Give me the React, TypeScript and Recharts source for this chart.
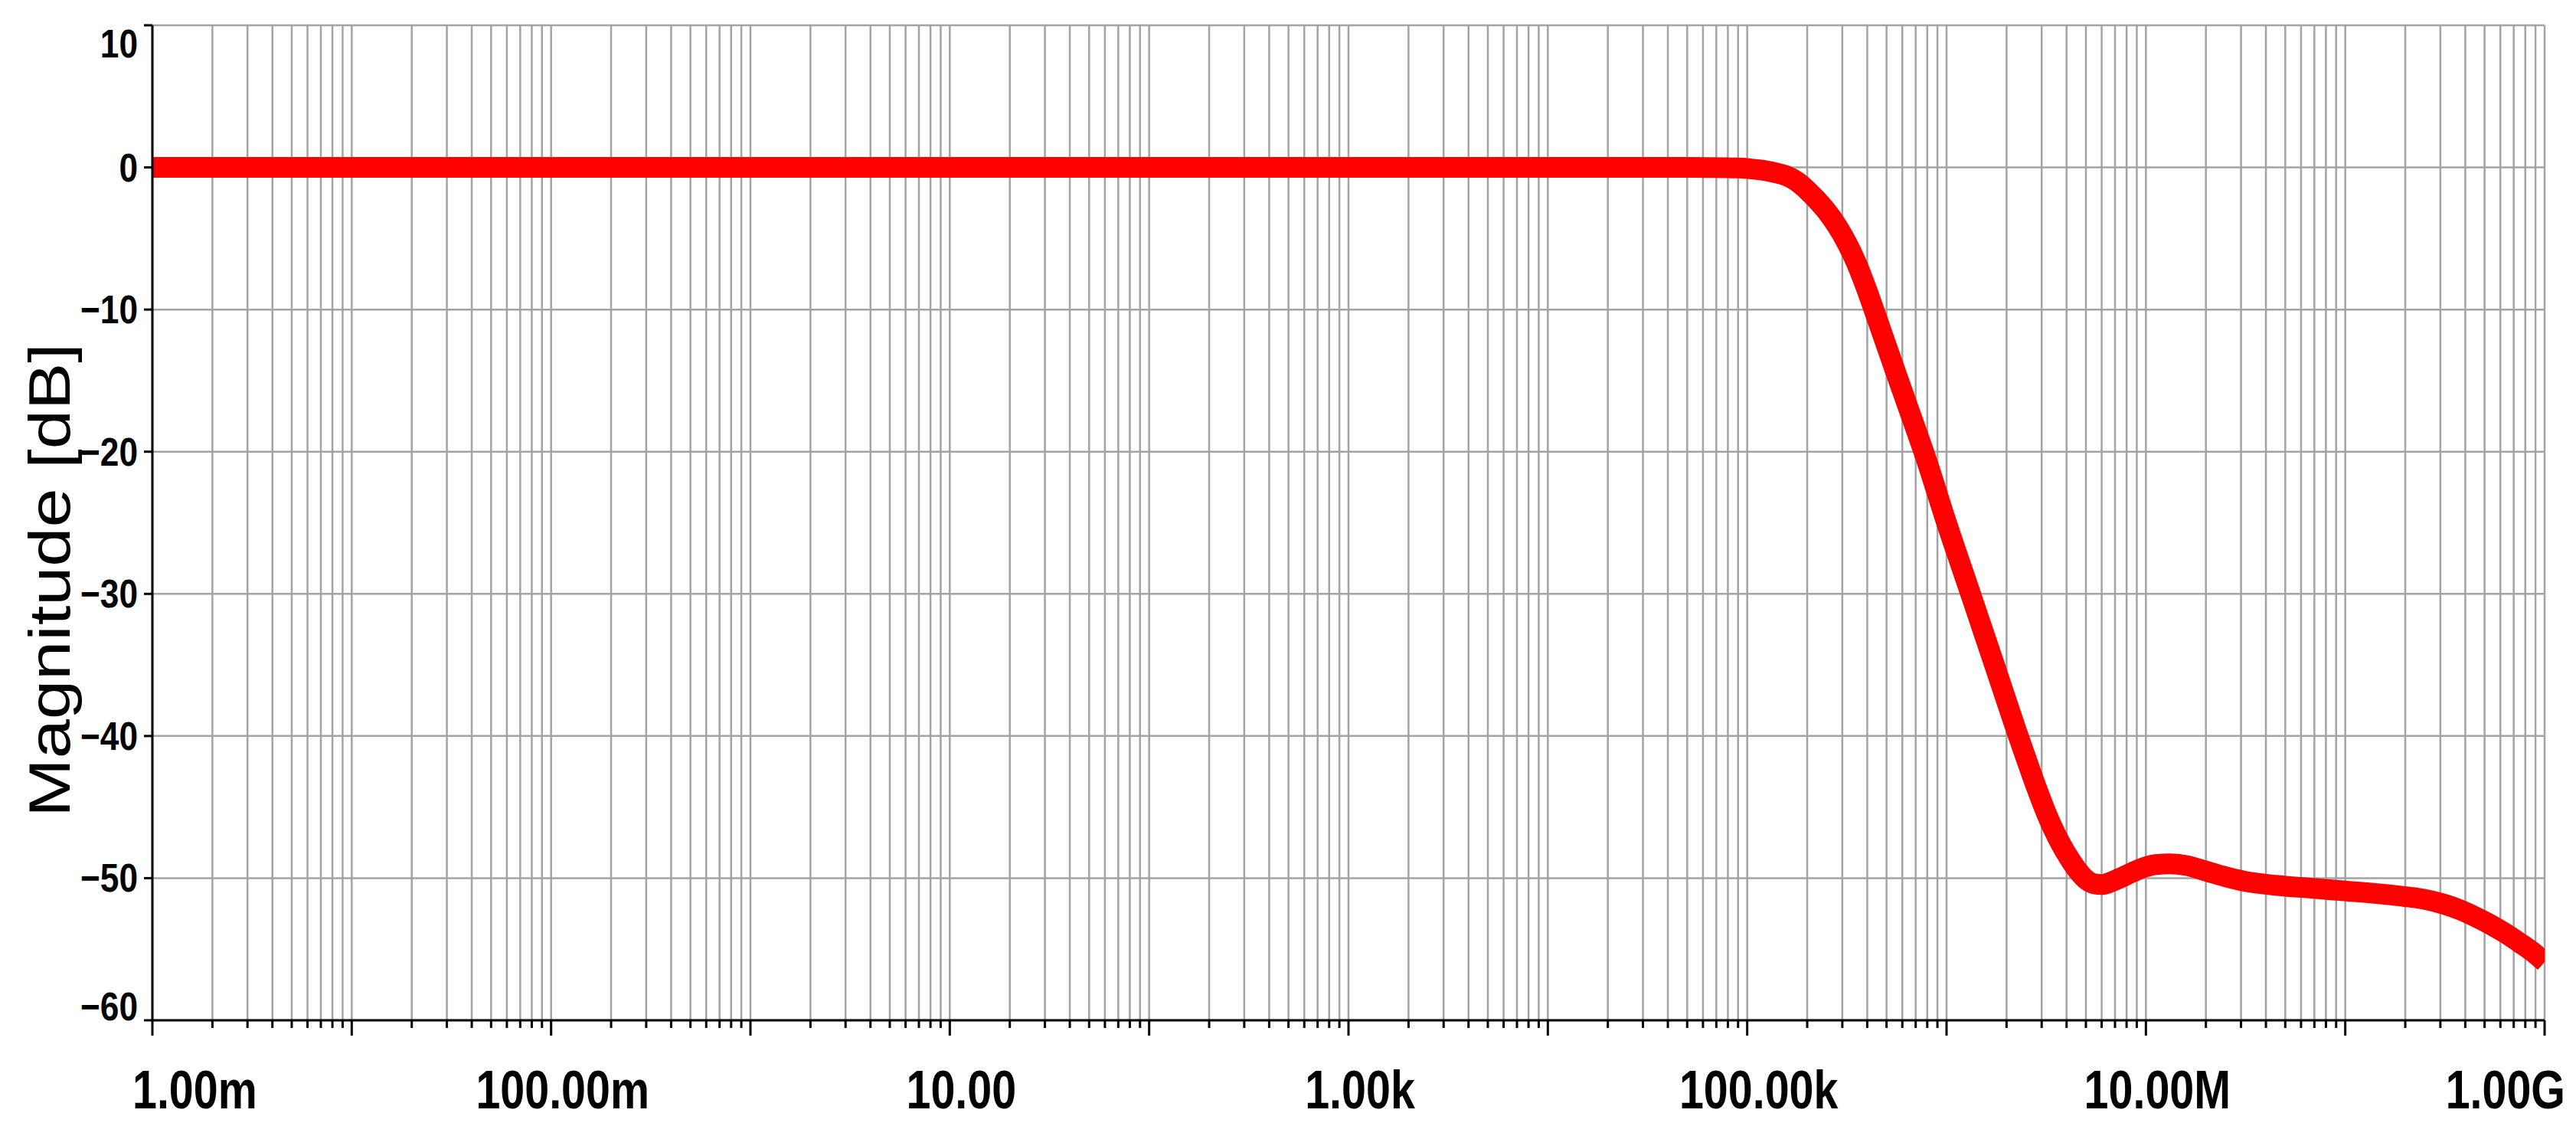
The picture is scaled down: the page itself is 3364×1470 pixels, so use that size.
import { CartesianGrid, Line, LineChart, XAxis, YAxis } from "recharts";

// frequency [Hz] and magnitude [dB]
const frequencies = [
  0.001, 0.01, 0.1, 1, 10, 100, 1000, 10000, 50000, 79400, 89100, 100000,
  112000, 126000, 141000, 158000, 178000, 200000, 224000, 251000, 282000,
  316000, 355000, 398000, 447000, 501000, 562000, 631000, 794000, 1000000,
  1320000, 1740000, 2290000, 2510000, 2820000, 3160000, 3680000, 4170000,
  4570000, 5010000, 5500000, 6030000, 6610000, 7410000, 8510000, 9770000,
  11200000, 13200000, 15800000, 20000000, 25100000, 30900000, 44700000,
  66100000, 100000000, 148000000, 200000000, 251000000, 316000000, 380000000,
  447000000, 525000000, 631000000, 759000000, 891000000, 1000000000,
];
const magnitudes = [
  0, 0, 0, 0, 0, 0, 0, 0, 0, -0.02, -0.04, -0.08,
  -0.15, -0.25, -0.4, -0.6, -1.0, -1.6, -2.3, -3.1, -4.1,
  -5.3, -6.8, -8.6, -10.6, -12.6, -14.6, -16.6, -20.6, -25,
  -30, -35, -40, -41.6, -43.6, -45.4, -47.4, -48.7,
  -49.5, -50.1, -50.4, -50.45, -50.3, -50.0, -49.6, -49.25,
  -49.05, -49.0, -49.1, -49.5, -49.9, -50.2, -50.5,
  -50.7, -50.9, -51.1, -51.3, -51.5, -51.85, -52.25,
  -52.7, -53.2, -53.85, -54.6, -55.3, -55.9,
];

const decades = [0.001, 0.01, 0.1, 1, 10, 100, 1000, 1e4, 1e5, 1e6, 1e7, 1e8, 1e9];
const multipliers = [1, 2, 3, 4, 5, 6, 7, 8, 9];
const labeledTicks = [0.001, 0.1, 10, 1000, 1e5, 1e7, 1e9];
const xTickLabels = ["1.00m", "100.00m", "10.00", "1.00k", "100.00k", "10.00M", "1.00G"];
const yTicks = [-60, -50, -40, -30, -20, -10, 0, 10];
const yTickLabels = ["\u221260", "\u221250", "\u221240", "\u221230", "\u221220", "\u221210", "0", "10"];

const data = frequencies.map((f, i) => ({ f, db: magnitudes[i] }));

const gridTicks = decades.flatMap((d) =>
  d === 1e9 ? [d] : multipliers.map((m) => d * m)
);

const FONT = "'Liberation Sans', Arial, Helvetica, sans-serif";

const isSame = (a: number, b: number) => Math.abs(a / b - 1) < 1e-6;

function XTick(props: any) {
  const { x, y, payload } = props;
  const v = payload.value as number;
  const major = decades.some((d) => isSame(d, v));
  const idx = labeledTicks.findIndex((t) => isSame(t, v));
  let anchor = "middle";
  let dx = 15;
  if (idx === 0) {
    anchor = "start";
    dx = -26;
  } else if (idx === labeledTicks.length - 1) {
    anchor = "end";
    dx = 27;
  }
  return (
    <g>
      <line x1={x} x2={x} y1={y} y2={y + (major ? 20 : 10)} stroke="#000" strokeWidth={3} />
      {idx >= 0 && (
        <text
          transform={`translate(${x + dx},${y + 115}) scale(0.82,1)`}
          textAnchor={anchor}
          fontFamily={FONT}
          fontWeight="bold"
          fontSize={70}
          fill="#000"
        >
          {xTickLabels[idx]}
        </text>
      )}
    </g>
  );
}

function YTick(props: any) {
  const { x, y, payload } = props;
  const v = payload.value as number;
  const idx = yTicks.indexOf(v);
  let dy = 18;
  if (v === yTicks[yTicks.length - 1]) dy = 42;
  if (v === yTicks[0]) dy = 0;
  return (
    <text
      transform={`translate(${x},${y + dy}) scale(0.85,1)`}
      textAnchor="end"
      fontFamily={FONT}
      fontWeight="bold"
      fontSize={52}
      fill="#000"
    >
      {yTickLabels[idx]}
    </text>
  );
}

function YTitle(props: any) {
  const vb = props.viewBox || { x: 0, y: 33, width: 199, height: 1299 };
  const cx = vb.x + 91;
  const cy = vb.y + vb.height / 2 + 75;
  return (
    <text
      transform={`translate(${cx},${cy}) rotate(-90) scale(1,0.82)`}
      textAnchor="middle"
      fontFamily={FONT}
      fontSize={92}
      fill="#000"
    >
      Magnitude [dB]
    </text>
  );
}

export default function App() {
  return (
    <div
      style={{
        position: "absolute",
        left: 0,
        top: 0,
        width: 3364,
        height: 1470,
        background: "#fff",
      }}
    >
      <LineChart
        width={3364}
        height={1470}
        data={data}
        margin={{ top: 33, right: 41, left: 0, bottom: 0 }}
      >
        <CartesianGrid stroke="#a3a3a3" strokeWidth={2.5} />
        <XAxis
          dataKey="f"
          type="number"
          scale="log"
          domain={[0.001, 1e9]}
          ticks={gridTicks}
          interval={0}
          allowDataOverflow
          height={138}
          tickSize={0}
          tickMargin={0}
          axisLine={{ stroke: "#000", strokeWidth: 3 }}
          tickLine={false}
          tick={<XTick />}
        />
        <YAxis
          type="number"
          domain={[-60, 10]}
          ticks={yTicks}
          interval={0}
          allowDataOverflow
          width={199}
          tickSize={11}
          tickMargin={8}
          axisLine={{ stroke: "#000", strokeWidth: 3 }}
          tickLine={{ stroke: "#000", strokeWidth: 3 }}
          tick={<YTick />}
          label={<YTitle />}
        />
        <Line
          type="monotone"
          dataKey="db"
          stroke="#ff0000"
          strokeWidth={27}
          dot={false}
          activeDot={false}
          isAnimationActive={false}
        />
      </LineChart>
    </div>
  );
}
